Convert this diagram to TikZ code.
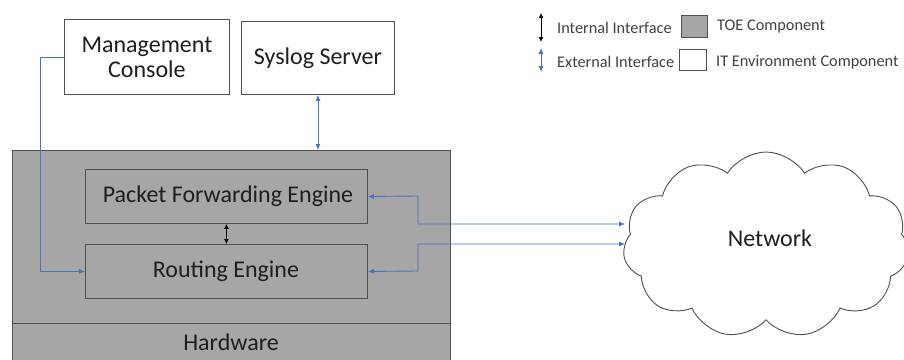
\documentclass[tikz,border=0pt]{standalone}
\usepackage{fontspec}
\setmainfont{Carlito}
\usetikzlibrary{arrows.meta,shapes.symbols,calc}
\definecolor{toegray}{RGB}{166,166,166}
\definecolor{edgegray}{RGB}{80,80,80}
\definecolor{extblue}{RGB}{68,114,196}
\definecolor{txt}{RGB}{30,30,30}
\begin{document}
\begin{tikzpicture}[x=1pt,y=-1pt,
  every node/.style={text=txt},
  itbox/.style={draw=edgegray,line width=0.9pt,fill=white,font=\fontsize{24}{27}\selectfont,align=center,inner sep=0pt},
  toebox/.style={draw=edgegray,line width=0.9pt,fill=toegray,font=\fontsize{24}{27}\selectfont,inner sep=0pt},
  ext/.style={draw=extblue,line width=0.9pt},
  exthead/.style={-{Latex[length=6pt,width=5pt]}},
  bothhead/.style={{Latex[length=6pt,width=5pt]}-{Latex[length=6pt,width=5pt]}},
  int/.style={draw=black,line width=0.9pt,{Latex[length=5pt,width=5pt]}-{Latex[length=5pt,width=5pt]}},
  legtext/.style={font=\fontsize{16.3}{19}\selectfont,anchor=west,inner sep=0pt,text=black!75}
]
\useasboundingbox (0,0) rectangle (904,359);
% TOE container
\node[toebox,minimum width=438,minimum height=215,anchor=north west] (toe) at (12,150) {};
\node[toebox,minimum width=438,minimum height=42,anchor=north west] (hw) at (12,323) {};
\node[font=\fontsize{24}{27}\selectfont] at (231,342) {Hardware};
% inner components
\node[toebox,minimum width=282,minimum height=54,anchor=north west] (pfe) at (85,169) {};
\node[font=\fontsize{24}{27}\selectfont] at (228,196) {Packet Forwarding Engine};
\node[toebox,minimum width=282,minimum height=54,anchor=north west] (re) at (85,244) {};
\node[font=\fontsize{24}{27}\selectfont] at (226,271) {Routing Engine};
% IT environment
\node[itbox,minimum width=165,minimum height=75,anchor=north west] (mc) at (64,19) {Management\\[-2pt]Console};
\node[itbox,minimum width=153,minimum height=73,anchor=north west] (syslog) at (241,21) {Syslog Server};
% network cloud
\node[cloud,draw=edgegray,line width=0.9pt,fill=white,cloud puffs=11,cloud puff arc=115,aspect=1.5,
      minimum width=286,minimum height=186,inner sep=0pt] (net) at (766,245) {};
\node[font=\fontsize{24}{27}\selectfont] at (770,238) {Network};
% connectors
\coordinate (n1) at (625,224);
\coordinate (n2) at (625,244);
\draw[ext,exthead] (mc.west) -- ++(-24,0) |- (re.west);
\draw[ext,bothhead] (syslog.south) -- (syslog.south |- toe.north);
\draw[ext,bothhead] (pfe.east) -- (418,196) |- (n1);
\draw[ext,bothhead] (re.east) -- (418,271) |- (n2);
\draw[int] (pfe.south) -- (re.north);
% legend
\coordinate (li1) at (541,13); \coordinate (li2) at (541,42);
\draw[int] (li1) -- (li2);
\node[legtext] (lint) at (557,28) {Internal Interface};
\node[draw=edgegray,line width=0.9pt,fill=toegray,minimum width=26,minimum height=22,anchor=north west,inner sep=0pt] (ltoe) at (681,15) {};
\node[legtext] (ltoet) at (717,27) {TOE Component};
\coordinate (le1) at (541,48); \coordinate (le2) at (541,72);
\draw[ext,bothhead] (le1) -- (le2);
\node[legtext] (lext) at (557,62) {External Interface};
\node[draw=edgegray,line width=0.9pt,fill=white,minimum width=27,minimum height=21,anchor=north west,inner sep=0pt] (lit) at (679,49) {};
\node[legtext] (litt) at (716,62) {IT Environment Component};
\end{tikzpicture}
\end{document}
